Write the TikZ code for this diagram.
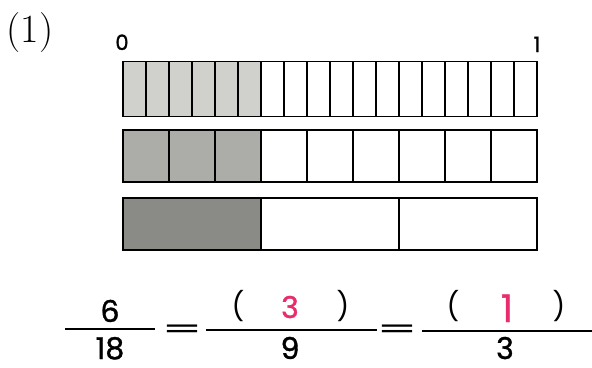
\documentclass[tikz,border=0pt]{standalone}
\usepackage{fontspec}
\newfontfamily\digitfont{Poppins}[FakeBold=1.2]
\newfontfamily\parenfont{Poppins}
\newfontfamily\eqfont{DejaVu Sans}
\definecolor{lightfill}{RGB}{208,208,204}
\definecolor{midfill}{RGB}{172,172,168}
\definecolor{darkfill}{RGB}{138,138,134}
\definecolor{answer}{RGB}{232,44,110}
\begin{document}
\begin{tikzpicture}[x=1pt,y=-1pt,
  outerbox/.style={draw=black,line width=1.8pt},
  divline/.style={draw=black,line width=1.3pt},
  fracline/.style={draw=black,line width=1.5pt},
  dig/.style={font=\digitfont\fontsize{30}{30}\selectfont,inner sep=0pt,anchor=base},
  small/.style={font=\digitfont\fontsize{21}{21}\selectfont,inner sep=0pt,anchor=base},
  paren/.style={font=\parenfont\fontsize{28}{28}\selectfont,inner sep=0pt,anchor=base},
  eqsign/.style={font=\eqfont\fontsize{46}{46}\selectfont,inner sep=0pt,xscale=1.05,yscale=0.6},
  ans/.style={text=answer}]
\useasboundingbox (0,0) rectangle (592,367);

% problem number
\node[font=\fontsize{40}{40}\selectfont,inner sep=0pt] (num) at (30,33) {(1)};

% scale labels
\node[small] (lab0) at (122,50) {0};
\node[small] (lab1) at (537,52) {1};

% bar 1: eighteenths
\fill[lightfill] (123,61.5) rectangle (261,116.5);
\foreach \i in {1,...,17}{
  \draw[divline] ({123+\i*23},61.5) -- ({123+\i*23},116.5);
}
\draw[outerbox] (123,61.5) rectangle (537,116.5);

% bar 2: ninths
\fill[midfill] (123,130) rectangle (261,182);
\foreach \i in {1,...,8}{
  \draw[divline] ({123+\i*46},130) -- ({123+\i*46},182);
}
\draw[outerbox] (123,130) rectangle (537,182);

% bar 3: thirds
\fill[darkfill] (123,198) rectangle (261,250);
\foreach \i in {1,2}{
  \draw[divline] ({123+\i*138},198) -- ({123+\i*138},250);
}
\draw[outerbox] (123,198) rectangle (537,250);

% fraction 6/18
\node[dig] (n1) at (110,322) {6};
\node[dig] (d1) at (110,359) {18};
\coordinate (f1l) at (65,329);
\coordinate (f1r) at (155,329);
\draw[fracline] (f1l) -- (f1r);

\node[eqsign] (eq1) at (182,331) {=};

% fraction (3)/9
\node[paren] (lp2) at (238,316) {(};
\node[dig,ans] (n2) at (290,318) {3};
\node[paren] (rp2) at (343,316) {)};
\node[dig] (d2) at (290,359) {9};
\coordinate (f2l) at (206,330);
\coordinate (f2r) at (377,330);
\draw[fracline] (f2l) -- (f2r);

\node[eqsign] (eq2) at (397,331) {=};

% fraction (1)/3
\node[paren] (lp3) at (453,316) {(};
\node[dig,ans,font=\digitfont\fontsize{38}{38}\selectfont] (n3) at (507,322) {1};
\node[paren] (rp3) at (559,316) {)};
\node[dig] (d3) at (505,359) {3};
\coordinate (f3l) at (422,331);
\coordinate (f3r) at (592,331);
\draw[fracline] (f3l) -- (f3r);
\end{tikzpicture}
\end{document}
